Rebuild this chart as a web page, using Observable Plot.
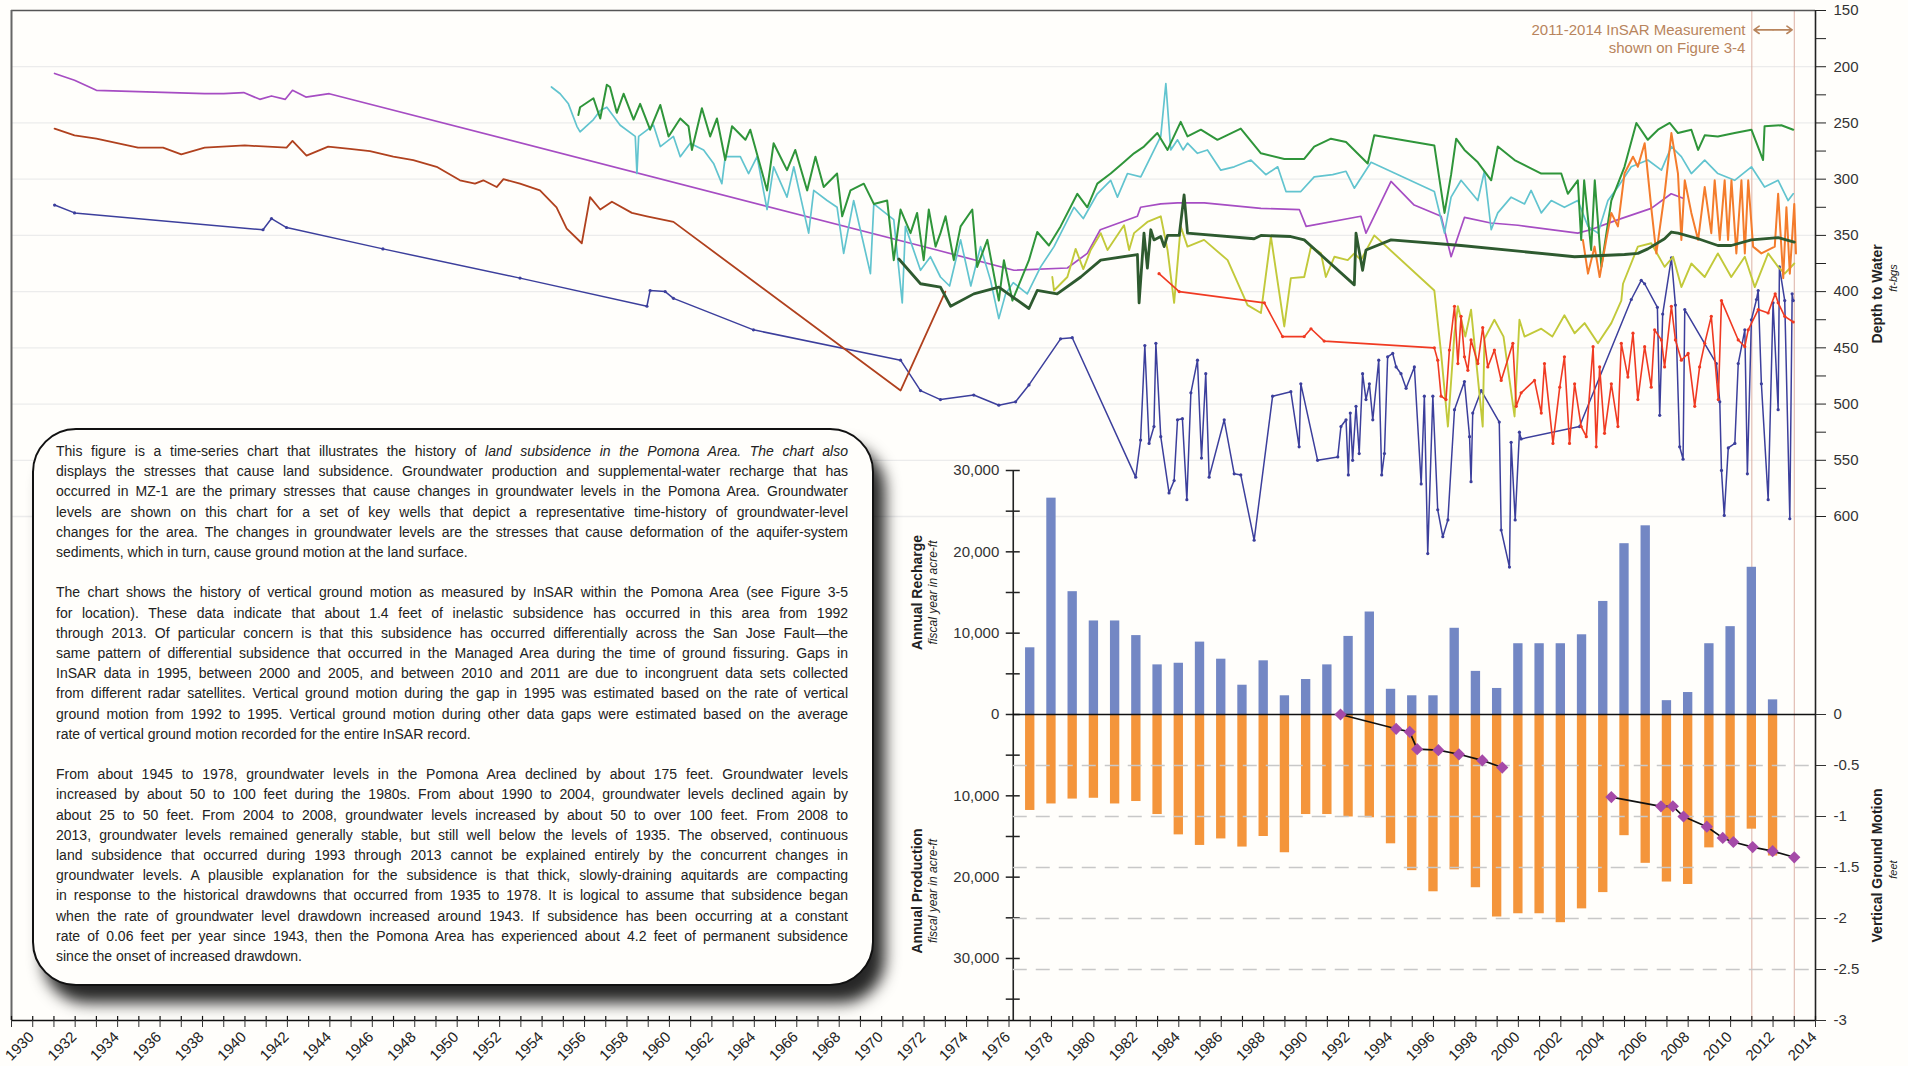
<!DOCTYPE html>
<html>
<head>
<meta charset="utf-8">
<script src="https://cdn.jsdelivr.net/npm/d3@7"></script>
<script src="https://cdn.jsdelivr.net/npm/@observablehq/plot@0.6"></script>
<style>
html, body { margin: 0; padding: 0; background: #fffefb; }
#wrap { position: relative; width: 1908px; height: 1066px; overflow: hidden; background: #fffefb; font-family: "Liberation Sans", Arial, sans-serif; }
#wrap svg { position: absolute; left: 0; top: 0; }
#note { position: absolute; left: 32px; top: 428px; width: 842px; height: 558px; box-sizing: border-box;
  border: 2px solid #111; border-radius: 44px; background: #fffefb;
  box-shadow: 11px 17px 15px rgba(0,0,0,0.85);
  padding: 11px 24px 0 22px; font-family: "Liberation Sans", Arial, sans-serif; font-size: 14px; line-height: 20.2px; color: #222; }
#note .ln { text-align: justify; text-align-last: justify; }
#note .ln.last { text-align: left; text-align-last: left; }
#note .gap { height: 20.2px; }
</style>
</head>
<body>
<div id="wrap"><div id="note"></div></div>
<script>
// ---------------- DATA ----------------
// Groundwater levels (depth to water, ft-bgs) for key wells: [year, depth]
const purpleWell = [[1932.03,206],[1932.97,212],[1934.0,221],[1939.1,224],[1940.0,224],[1940.94,223],[1941.7,229],[1942.25,226],[1942.9,229],[1943.24,221],[1943.87,227],[1944.97,224],[1973.6,363],[1977.23,381],[1979.75,379],[1980.69,366],[1981.3,345],[1983.05,333],[1983.2,325],[1984.15,322],[1984.94,321],[1986.2,321],[1988.87,326],[1990.68,327],[1991.0,342],[1993.58,333],[1993.82,348],[1995.0,302],[1996.09,323],[1997.36,333],[1997.83,369],[1998.46,334],[1999.7,339],[2000.98,341],[2003.8,348],[2004.4,345],[2005.7,336],[2007.26,326],[2008.2,313],[2008.76,317]];
const brownWell = [[1932.03,255],[1932.97,261],[1934.0,264],[1935.96,272],[1937.14,272],[1938.0,278],[1939.1,272],[1940.99,270],[1942.96,272],[1943.24,266],[1943.9,279],[1944.92,271],[1945.94,273],[1946.89,275],[1947.99,280],[1948.93,283],[1950.03,289],[1951.13,301],[1951.84,304],[1952.23,301],[1952.86,307],[1953.18,300],[1953.96,304],[1954.9,310],[1955.68,325],[1956.16,344],[1956.87,357],[1957.26,316],[1957.74,327],[1958.29,320],[1959.23,330],[1959.94,333],[1961.19,338],[1971.89,488],[1974.0,400]];
const navyWell = [[1932.03,323],[1932.97,330],[1941.85,345],[1942.25,335],[1942.96,343],[1947.5,362],[1953.96,388],[1959.94,413],[1960.09,399],[1960.8,400],[1961.19,406],[1964.96,434],[1971.89,461],[1972.83,488],[1973.77,496],[1975.34,492],[1976.52,501],[1977.31,498],[1977.94,483],[1979.43,442],[1979.98,441],[1982.97,565],[1983.2,532],[1983.4,448],[1983.6,535],[1983.83,520],[1983.92,446],[1984.15,529],[1984.54,579],[1984.78,568],[1984.94,514],[1985.17,513],[1985.38,585],[1985.57,490],[1985.88,461],[1986.07,548],[1986.27,473],[1986.43,565],[1987.14,514],[1987.61,562],[1987.92,563],[1988.55,621],[1989.42,493],[1990.28,489],[1990.67,538],[1990.75,482],[1991.54,550],[1992.49,547],[1992.64,520],[1992.88,514],[1992.99,563],[1993.08,508],[1993.19,550],[1993.35,502],[1993.5,544],[1993.66,473],[1993.82,496],[1993.98,482],[1994.14,514],[1994.42,461],[1994.56,563],[1994.69,544],[1994.84,458],[1995.08,455],[1995.24,467],[1995.47,473],[1995.71,486],[1996.1,467],[1996.42,571],[1996.57,493],[1996.73,633],[1996.97,493],[1997.2,594],[1997.44,618],[1997.68,603],[1997.99,505],[1998.46,480],[1998.7,529],[1998.77,569],[1998.85,508],[1999.25,488],[2000.1,516],[2000.19,612],[2000.58,645],[2000.66,534],[2000.85,603],[2001.05,525],[2001.13,531],[2003.88,520],[2006.32,407],[2006.79,390],[2006.95,393],[2007.55,414],[2007.66,510],[2007.8,420],[2008.21,370],[2008.4,412],[2008.6,538],[2008.76,549],[2008.84,416],[2010.33,464],[2010.49,498],[2010.57,559],[2010.7,599],[2010.89,539],[2011.2,535],[2011.36,464],[2011.67,434],[2011.79,562],[2011.98,425],[2012.22,407],[2012.3,399],[2012.45,482],[2012.77,585],[2013.0,410],[2013.24,505],[2013.3,378],[2013.55,408],[2013.79,602],[2013.9,402],[2013.95,408]];
const cyanWell = [[1955.44,218],[1955.85,224],[1956.24,233],[1956.64,253],[1956.79,258],[1957.42,247],[1957.74,239],[1958.05,236],[1958.68,252],[1959.39,262],[1959.47,295],[1959.55,262],[1960.25,252],[1960.57,271],[1961.19,262],[1961.51,280],[1961.98,268],[1962.61,274],[1963.08,286],[1963.47,304],[1963.63,280],[1964.34,280],[1964.73,295],[1965.13,280],[1965.6,327],[1965.91,289],[1966.54,316],[1966.86,289],[1967.56,348],[1967.8,310],[1968.43,319],[1968.9,325],[1969.21,366],[1969.68,319],[1970.47,384],[1970.63,322],[1971.57,336],[1971.97,410],[1972.12,342],[1972.83,381],[1973.3,369],[1973.77,387],[1974.2,395],[1974.72,354],[1975.2,395],[1975.66,360],[1976.13,390],[1976.52,424],[1976.84,402],[1977.2,392],[1977.86,402],[1978.49,378],[1979.12,360],[1980.06,325],[1980.5,335],[1981.16,313],[1981.79,301],[1982.11,316],[1982.58,295],[1983.21,298],[1983.6,283],[1984.15,262],[1984.39,215],[1984.54,253],[1984.62,274],[1984.94,265],[1985.2,274],[1985.41,268],[1985.88,277],[1986.35,274],[1986.98,292],[1987.61,289],[1988.4,283],[1989.1,296],[1989.66,289],[1990.05,311],[1990.75,311],[1991.38,298],[1992.25,296],[1992.88,293],[1993.27,308],[1994.06,285],[1997.04,311],[1997.52,348],[1997.83,316],[1998.3,301],[1999.09,319],[1999.4,293],[1999.72,345],[2000.03,330],[2000.66,316],[2001.29,322],[2001.6,310],[2002.08,330],[2002.55,319],[2003.17,325],[2003.8,319],[2004.28,342],[2004.75,348],[2005.22,319],[2005.69,307],[2006.32,289],[2007.1,283],[2007.74,292],[2008.21,271],[2008.68,280],[2009.15,295],[2009.78,283],[2010.4,295],[2011.19,301],[2011.98,289],[2012.6,307],[2013.24,301],[2013.71,319],[2013.95,313]];
const greenWell = [[1956.71,243],[1956.79,236],[1957.42,228],[1957.74,246],[1958.05,216],[1958.2,218],[1958.52,241],[1958.84,224],[1959.31,247],[1959.62,233],[1960.09,256],[1960.57,234],[1960.96,262],[1961.51,246],[1961.9,253],[1962.06,274],[1962.53,237],[1962.92,262],[1963.24,246],[1963.63,283],[1963.95,253],[1964.58,265],[1964.81,256],[1965.6,310],[1965.91,268],[1966.54,292],[1966.93,274],[1967.49,310],[1967.88,280],[1968.27,307],[1968.9,295],[1969.14,333],[1969.53,310],[1970.16,304],[1970.63,322],[1971.26,319],[1971.57,372],[1971.89,327],[1972.36,348],[1972.67,330],[1972.98,372],[1973.22,327],[1973.54,360],[1973.77,348],[1974.01,333],[1974.4,372],[1974.72,342],[1975.27,327],[1975.5,378],[1975.98,354],[1976.52,408],[1976.76,372],[1977.16,408],[1977.94,372],[1978.33,347],[1978.88,359],[1979.43,342],[1980.22,313],[1980.69,325],[1981.16,304],[1981.79,295],[1982.34,286],[1982.89,277],[1983.36,271],[1983.99,259],[1984.47,274],[1985.09,249],[1985.41,262],[1986.04,256],[1986.82,265],[1987.92,255],[1988.87,277],[1989.97,282],[1990.91,282],[1991.38,271],[1992.17,264],[1992.88,267],[1993.9,286],[1994.21,261],[1997.04,270],[1997.52,330],[1997.83,296],[1998.07,264],[1998.46,274],[1999.09,285],[1999.72,301],[2000.03,271],[2000.82,283],[2001.45,289],[2002.08,295],[2003.02,295],[2003.33,313],[2003.8,301],[2003.96,354],[2004.1,301],[2004.43,363],[2004.6,301],[2004.91,378],[2005.38,319],[2006.0,289],[2006.56,250],[2007.1,265],[2007.58,256],[2008.13,250],[2008.52,259],[2009.15,256],[2009.47,274],[2009.78,261],[2010.4,262],[2011.19,259],[2011.98,256],[2012.53,283],[2012.6,253],[2013.39,252],[2013.95,256]];
const darkGreenWell = [[1971.81,371],[1972.83,393],[1973.77,396],[1974.25,413],[1975.34,402],[1976.52,396],[1977.94,415],[1978.33,399],[1979.27,402],[1980.38,387],[1981.32,372],[1983.05,367],[1983.13,410],[1983.36,348],[1983.52,379],[1983.68,345],[1983.83,354],[1984.15,351],[1984.31,360],[1984.47,350],[1985.02,350],[1985.25,314],[1985.41,348],[1988.55,353],[1988.87,350],[1990.28,351],[1990.91,354],[1993.27,394],[1993.35,348],[1993.66,381],[1993.82,363],[1995.0,354],[1998.3,359],[2003.65,369],[2006.0,367],[2006.63,366],[2007.1,362],[2007.89,353],[2008.21,347],[2008.52,348],[2009.47,353],[2010.4,359],[2011.03,359],[2011.98,354],[2013.24,352],[2014.0,356]];
const yellowWell = [[1979.04,387],[1979.12,399],[1979.75,387],[1980.14,362],[1980.5,380],[1980.85,363],[1981.32,348],[1981.64,363],[1982.42,341],[1982.66,363],[1982.89,348],[1983.52,338],[1984.15,333],[1984.47,363],[1984.78,410],[1985.09,342],[1985.41,360],[1986.19,354],[1987.3,372],[1988.24,412],[1988.87,419],[1989.34,351],[1989.97,431],[1990.28,388],[1990.91,387],[1991.23,360],[1991.7,366],[1991.93,387],[1992.33,369],[1992.96,372],[1993.27,366],[1993.58,372],[1994.21,350],[1997.04,399],[1997.36,455],[1997.68,520],[1997.99,437],[1998.15,413],[1998.5,440],[1998.77,416],[1999.32,520],[1999.4,442],[1999.87,425],[2000.3,440],[2000.82,511],[2001.05,425],[2001.29,440],[2002.08,433],[2002.6,440],[2003.17,421],[2003.65,437],[2004.12,428],[2004.75,446],[2005.38,428],[2005.85,408],[2005.93,393],[2006.63,360],[2007.26,357],[2007.89,378],[2008.29,369],[2008.68,396],[2009.15,375],[2009.78,387],[2010.4,366],[2011.03,387],[2011.67,369],[2012.14,396],[2012.77,366],[2013.24,378],[2013.55,384],[2014.0,375]];
const redWell = [[1984.07,384],[1985.02,400],[1989.03,410],[1989.89,440],[1990.91,440],[1991.23,433],[1991.85,444],[1997.04,450],[1997.2,461],[1997.36,493],[1997.59,496],[1997.75,452],[1997.99,413],[1998.15,464],[1998.3,422],[1998.46,458],[1998.62,470],[1998.77,443],[1999.09,464],[1999.32,432],[1999.56,467],[1999.87,452],[2000.19,479],[2000.74,446],[2000.9,502],[2001.13,490],[2001.76,479],[2002.08,508],[2002.23,464],[2002.63,535],[2002.95,485],[2003.17,458],[2003.41,535],[2003.65,482],[2003.96,520],[2004.2,529],[2004.52,449],[2004.67,538],[2004.83,467],[2005.06,526],[2005.38,482],[2005.69,520],[2005.85,446],[2006.16,476],[2006.4,437],[2006.63,496],[2006.95,449],[2007.26,485],[2007.42,434],[2007.74,443],[2007.89,467],[2008.21,413],[2008.4,443],[2008.68,461],[2009.0,455],[2009.31,502],[2009.54,467],[2009.78,446],[2010.09,422],[2010.42,496],[2010.57,408],[2011.36,443],[2011.67,449],[2011.83,434],[2012.3,416],[2012.77,419],[2013.1,402],[2013.24,410],[2013.55,422],[2013.95,427]];
const orangeWell = [[2004.04,354],[2004.28,384],[2004.59,360],[2004.83,387],[2005.14,354],[2005.38,330],[2005.69,342],[2006.0,295],[2006.4,280],[2006.63,289],[2006.95,268],[2007.26,325],[2007.5,366],[2007.89,313],[2008.21,259],[2008.52,295],[2008.68,354],[2008.84,301],[2009.15,330],[2009.47,354],[2009.78,307],[2010.09,348],[2010.25,301],[2010.49,354],[2010.72,301],[2010.88,354],[2011.04,301],[2011.27,366],[2011.51,301],[2011.67,366],[2011.83,301],[2012.06,360],[2012.45,366],[2013.08,360],[2013.24,313],[2013.48,388],[2013.63,325],[2013.79,384],[2014.0,322],[2014.08,366]];

// Annual recharge and production (fiscal year, acre-ft)
const barYears = [1978,1979,1980,1981,1982,1983,1984,1985,1986,1987,1988,1989,1990,1991,1992,1993,1994,1995,1996,1997,1998,1999,2000,2001,2002,2003,2004,2005,2006,2007,2008,2009,2010,2011,2012,2013];
const recharge = [8200,26600,15100,11500,11500,9700,6100,6300,8900,6800,3600,6600,2300,4300,6100,9600,12600,3100,2300,2300,10600,5300,3200,8700,8700,8700,9800,13900,21000,23200,1700,2700,8700,10800,18100,1800];
const production = [11800,11000,10400,10300,11000,10700,12300,14800,16100,15300,16300,15000,17000,12300,12300,12600,12700,15900,19200,21800,19100,21300,24900,24500,24500,25600,23900,21900,14900,18300,20600,20900,16400,15400,14100,17400];

// Vertical ground motion from InSAR (feet): [year, feet]
const motionPhase1 = [[1992.62,0],[1995.24,-0.14],[1995.88,-0.17],[1996.23,-0.34],[1997.23,-0.35],[1998.2,-0.39],[1999.3,-0.45],[2000.24,-0.52]];
const motionPhase2 = [[2005.38,-0.81],[2007.72,-0.90],[2008.28,-0.90],[2008.78,-1.0],[2009.88,-1.10],[2010.63,-1.21],[2011.13,-1.25],[2012.04,-1.30],[2012.98,-1.34],[2014.0,-1.40]];

// Axis ticks / labels
const depthTicks = [150,200,250,300,350,400,450,500,550,600];
const depthMinorTicks = [175,225,275,325,375,425,475,525,575];
const acreFtTicks = [-35000,-30000,-25000,-20000,-15000,-10000,-5000,0,5000,10000,15000,20000,25000,30000];
const acreFtLabels = [-30000,-20000,-10000,0,10000,20000,30000];
const motionTicks = [-3,-2.5,-2,-1.5,-1,-0.5,0];
const motionGrid = [-2.5,-2,-1.5,-1,-0.5];
const yearTicks = d3.range(1930, 2016);
const yearLabels = d3.range(1930, 2015, 2);
const insarWindow = [2012, 2014];

const noteParagraphs = [
  ["This figure is a time-series chart that illustrates the history of |land subsidence in the Pomona Area. The chart also",
   "displays the stresses that cause land subsidence. Groundwater production and supplemental-water recharge that has",
   "occurred in MZ-1 are the primary stresses that cause changes in groundwater levels in the Pomona Area. Groundwater",
   "levels are shown on this chart for a set of key wells that depict a representative time-history of groundwater-level",
   "changes for the area. The changes in groundwater levels are the stresses that cause deformation of the aquifer-system",
   "sediments, which in turn, cause ground motion at the land surface."],
  ["The chart shows the history of vertical ground motion as measured by InSAR within the Pomona Area (see Figure 3-5",
   "for location). These data indicate that about 1.4 feet of inelastic subsidence has occurred in this area from 1992",
   "through 2013. Of particular concern is that this subsidence has occurred differentially across the San Jose Fault\u2014the",
   "same pattern of differential subsidence that occurred in the Managed Area during the time of ground fissuring. Gaps in",
   "InSAR data in 1995, between 2000 and 2005, and between 2010 and 2011 are due to incongruent data sets collected",
   "from different radar satellites. Vertical ground motion during the gap in 1995 was estimated based on the rate of vertical",
   "ground motion from 1992 to 1995. Vertical ground motion during other data gaps were estimated based on the average",
   "rate of vertical ground motion recorded for the entire InSAR record."],
  ["From about 1945 to 1978, groundwater levels in the Pomona Area declined by about 175 feet. Groundwater levels",
   "increased by about 50 to 100 feet during the 1980s. From about 1990 to 2004, groundwater levels declined again by",
   "about 25 to 50 feet. From 2004 to 2008, groundwater levels increased by about 50 to over 100 feet.  From 2008 to",
   "2013, groundwater levels remained generally stable, but still well below the levels of 1935. The observed, continuous",
   "land subsidence that occurred during 1993 through 2013 cannot be explained entirely by the concurrent changes in",
   "groundwater levels. A plausible explanation for the subsidence is that thick, slowly-draining aquitards are compacting",
   "in response to the historical drawdowns that occurred from 1935 to 1978.  It is logical to assume that subsidence began",
   "when the rate of groundwater level drawdown increased around 1943.  If subsidence has been occurring at a constant",
   "rate of 0.06 feet per year since 1943, then the Pomona Area has experienced about 4.2 feet of permanent subsidence",
   "since the onset of increased drawdown."]
];

// ---------------- LAYOUT ----------------
const W = 1908, H = 1066;
const XL = 11, XR = 1815;              // pixel positions of 1930 and 2015
const yearPx = (XR - XL) / (2015 - 1930);
const barAxisYear = 1977.2;
const barLeft = XL + (barAxisYear - 1930) * yearPx;
const font = "Liberation Sans, Arial, sans-serif";
const baseStyle = {background: "transparent", overflow: "visible", fontFamily: font, fontSize: "15px", color: "#333"};
const annotColor = "#b8845c";

const wells = [
  {data: navyWell,      color: "#3c3f9c", w: 1.5, dots: true},
  {data: brownWell,     color: "#b0411e", w: 1.8, dots: false},
  {data: purpleWell,    color: "#a64dc3", w: 1.7, dots: false},
  {data: cyanWell,      color: "#62c4cf", w: 1.7, dots: false},
  {data: greenWell,     color: "#2f953a", w: 2.0, dots: false},
  {data: yellowWell,    color: "#c2c93a", w: 1.9, dots: false},
  {data: redWell,       color: "#f03a22", w: 1.6, dots: true},
  {data: orangeWell,    color: "#f47c2c", w: 2.0, dots: false},
  {data: darkGreenWell, color: "#2e5a2f", w: 2.8, dots: false}
];

const wellMarks = wells.flatMap(w => {
  const rows = w.data.map(([year, depth]) => ({year, depth}));
  const m = [Plot.line(rows, {x: "year", y: "depth", stroke: w.color, strokeWidth: w.w, strokeLinejoin: "round"})];
  if (w.dots) m.push(Plot.dot(rows, {x: "year", y: "depth", r: 1.6, fill: w.color}));
  return m;
});

// Layer A: depth to water
const plotA = Plot.plot({
  width: W, height: H, marginLeft: XL, marginRight: W - XR, marginTop: 10, marginBottom: 46,
  style: baseStyle,
  x: {domain: [1930, 2015], axis: null},
  y: {domain: [150, 1048.2], reverse: true, axis: null, label: null},
  marks: [
    Plot.ruleY(depthTicks.slice(1), {stroke: "#ececec", strokeWidth: 1.3}),
    Plot.ruleX(insarWindow, {stroke: "#dcb0a4", strokeWidth: 1}),
    ...wellMarks,
    Plot.ruleY([150], {stroke: "#555", strokeWidth: 1.5}),
    Plot.ruleX([1930], {stroke: "#666", strokeWidth: 2}),
    Plot.ruleX([2015], {stroke: "#222", strokeWidth: 1.6}),
    Plot.axisY(depthTicks, {anchor: "right", tickSize: 10, tickPadding: 8, fontSize: 15, label: null, tickFormat: d => String(d), stroke: "#222", fill: "#333"}),
    Plot.axisY(depthMinorTicks, {anchor: "right", tickSize: 10, label: null, tickFormat: () => "", stroke: "#222"}),
    Plot.text(["2011-2014 InSAR Measurement"], {x: 2011.7, y: 167.8, text: d => d, textAnchor: "end", fill: annotColor, fontSize: 15}),
    Plot.text(["shown on Figure 3-4"], {x: 2011.7, y: 183.8, text: d => d, textAnchor: "end", fill: annotColor, fontSize: 15}),
    Plot.arrow([0], {x1: 2013.0, x2: 2012.1, y1: 167.2, y2: 167.2, stroke: annotColor, strokeWidth: 1.6, headLength: 9, headAngle: 70, insetStart: 0, insetEnd: 0}),
    Plot.arrow([0], {x1: 2013.0, x2: 2013.9, y1: 167.2, y2: 167.2, stroke: annotColor, strokeWidth: 1.6, headLength: 9, headAngle: 70, insetStart: 0, insetEnd: 0}),
    Plot.text(["Depth to Water"], {x: 2015, y: 402, dx: 62, text: d => d, rotate: -90, fontWeight: "bold", fontSize: 14, fill: "#222"}),
    Plot.text(["ft-bgs"], {x: 2015, y: 388, dx: 78, text: d => d, rotate: -90, fontStyle: "italic", fontSize: 11, fill: "#222"})
  ]
});

// Layer B: recharge / production bars
const rechargeRows = barYears.map((year, i) => ({year, value: recharge[i]}));
const productionRows = barYears.map((year, i) => ({year, value: -production[i]}));
const plotB = Plot.plot({
  width: W, height: H, marginLeft: barLeft, marginRight: W - XR, marginTop: 470, marginBottom: 46,
  style: baseStyle,
  x: {domain: [barAxisYear, 2015], axis: null},
  y: {domain: [-37625, 30000], axis: null, label: null},
  marks: [
    Plot.rect(rechargeRows, {x1: d => d.year - 0.22, x2: d => d.year + 0.22, y1: 0, y2: "value", fill: "#7387c4"}),
    Plot.rect(productionRows, {x1: d => d.year - 0.22, x2: d => d.year + 0.22, y1: 0, y2: "value", fill: "#f4953b"}),
    Plot.ruleX([barAxisYear], {y1: -37625, y2: 30000, stroke: "#222", strokeWidth: 1.6}),
    Plot.ruleY(acreFtTicks, {x1: barAxisYear - 0.33, x2: barAxisYear + 0.33, stroke: "#222", strokeWidth: 1.5}),
    Plot.axisY(acreFtLabels, {anchor: "left", tickSize: 0, tickPadding: 14, fontSize: 15, label: null, fill: "#333", tickFormat: d => d3.format(",")(Math.abs(d))}),
    Plot.text(["Annual Recharge"], {x: barAxisYear, y: 15000, dx: -96, text: d => d, rotate: -90, fontWeight: "bold", fontSize: 14, fill: "#222"}),
    Plot.text(["fiscal year in acre-ft"], {x: barAxisYear, y: 15000, dx: -80, text: d => d, rotate: -90, fontStyle: "italic", fontSize: 12, fill: "#222"}),
    Plot.text(["Annual Production"], {x: barAxisYear, y: -21700, dx: -96, text: d => d, rotate: -90, fontWeight: "bold", fontSize: 14, fill: "#222"}),
    Plot.text(["fiscal year in acre-ft"], {x: barAxisYear, y: -21700, dx: -80, text: d => d, rotate: -90, fontStyle: "italic", fontSize: 12, fill: "#222"})
  ]
});

// Layer C: vertical ground motion + time axis
const motionRows = [
  ...motionPhase1.map(([year, ft]) => ({year, ft, seg: 1})),
  ...motionPhase2.map(([year, ft]) => ({year, ft, seg: 2}))
];
const plotC = Plot.plot({
  width: W, height: H, marginLeft: XL, marginRight: W - XR, marginTop: 714, marginBottom: 46,
  style: baseStyle,
  x: {domain: [1930, 2015], axis: null, label: null},
  y: {domain: [-3, 0], axis: null, label: null},
  marks: [
    Plot.ruleY(motionGrid, {x1: barAxisYear, x2: 2015, stroke: "#c8c8c8", strokeWidth: 1.4, strokeDasharray: "14,9"}),
    Plot.ruleY([0], {x1: barAxisYear, x2: 2015, stroke: "#111", strokeWidth: 1.6}),
    Plot.line(motionRows, {x: "year", y: "ft", z: "seg", stroke: "#111", strokeWidth: 1.7}),
    Plot.dot(motionRows, {x: "year", y: "ft", symbol: "diamond2", r: 5.5, fill: "#a54aa8"}),
    Plot.axisY(motionTicks, {anchor: "right", tickSize: 10, tickPadding: 8, fontSize: 15, label: null, fill: "#333", tickFormat: d => d === 0 ? "0" : String(d)}),
    Plot.ruleY([-3], {stroke: "#111", strokeWidth: 1.7}),
    Plot.ruleX(yearTicks, {y1: -3, y2: -2.96, stroke: "#111", strokeWidth: 1.2}),
    Plot.axisX(yearTicks, {anchor: "bottom", tickSize: 7, label: null, tickFormat: () => ""}),
    Plot.text(yearLabels, {x: d => d, y: -3, text: d => String(d), rotate: -45, textAnchor: "end", dx: 20, dy: 14, fontSize: 15, fill: "#222"}),
    Plot.text(["Vertical Ground Motion"], {x: 2015, y: -1.48, dx: 62, text: d => d, rotate: -90, fontWeight: "bold", fontSize: 14, fill: "#222"}),
    Plot.text(["feet"], {x: 2015, y: -1.52, dx: 78, text: d => d, rotate: -90, fontStyle: "italic", fontSize: 11, fill: "#222"})
  ]
});

const wrap = document.getElementById("wrap");
const note = document.getElementById("note");
wrap.insertBefore(plotA, note);
wrap.insertBefore(plotB, note);
wrap.insertBefore(plotC, note);

// Text box
noteParagraphs.forEach((lines, pi) => {
  if (pi > 0) { const g = document.createElement("div"); g.className = "gap"; note.appendChild(g); }
  lines.forEach((line, li) => {
    const div = document.createElement("div");
    div.className = "ln" + (li === lines.length - 1 ? " last" : "");
    const parts = line.split("|");
    div.appendChild(document.createTextNode(parts[0]));
    if (parts[1]) { const it = document.createElement("i"); it.textContent = parts[1]; div.appendChild(it); }
    note.appendChild(div);
  });
});
note.querySelectorAll(".ln").forEach(el => {
  let fs = 14;
  while (el.offsetHeight > 26 && fs > 9) { fs -= 0.25; el.style.fontSize = fs + "px"; }
});
</script>
</body>
</html>
